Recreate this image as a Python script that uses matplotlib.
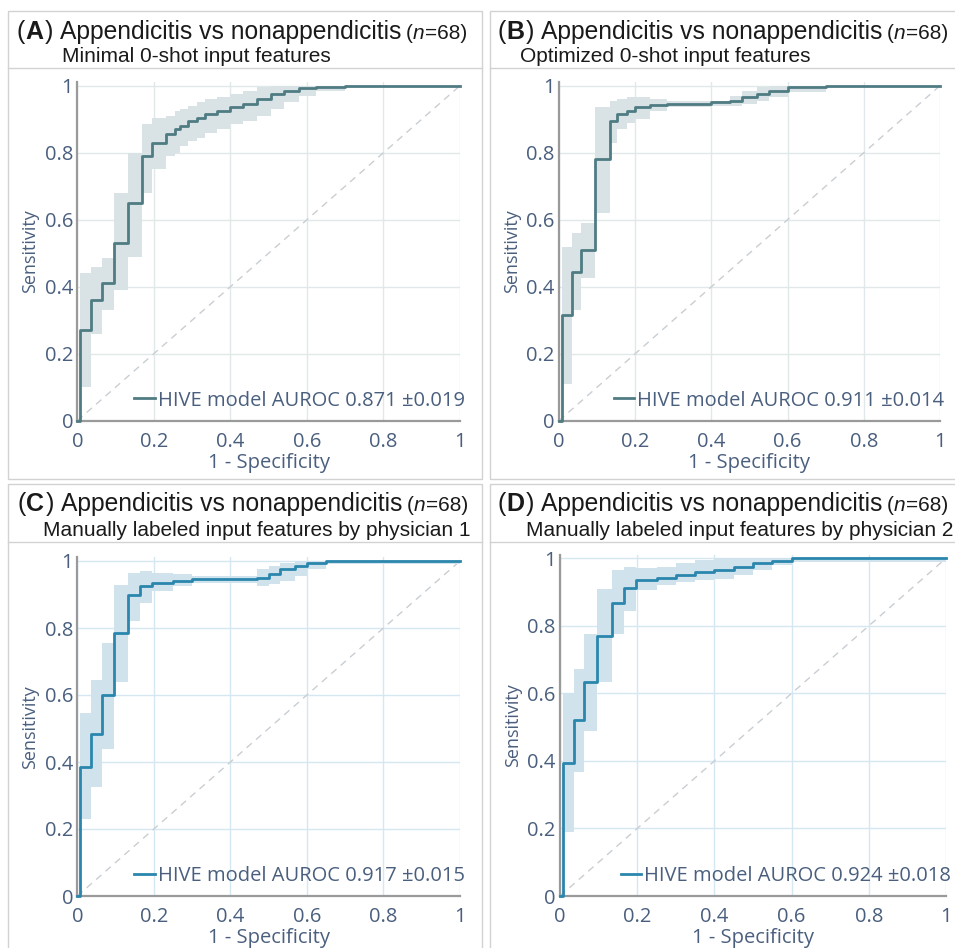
import matplotlib

matplotlib.use("Agg")

import matplotlib.pyplot as plt
from matplotlib.lines import Line2D
from matplotlib.patches import Rectangle

W, H = 955, 948

# ---- data (step ROC curves with +/- band) ----
A_FPR = [0, 0.008, 0.035, 0.064, 0.097, 0.133, 0.168, 0.194, 0.233, 0.255, 0.268, 0.29,
         0.312, 0.334, 0.364, 0.40, 0.434, 0.47, 0.505, 0.54, 0.58, 0.625, 0.70, 1.0]
A_TPR = [0, 0.27, 0.36, 0.41, 0.53, 0.65, 0.79, 0.83, 0.855, 0.87, 0.88, 0.895,
         0.905, 0.915, 0.925, 0.935, 0.945, 0.96, 0.975, 0.985, 0.993, 0.997, 1.0, 1.0]
A_LO = [0, 0.10, 0.26, 0.33, 0.39, 0.49, 0.68, 0.75, 0.79, 0.80, 0.82, 0.835,
        0.845, 0.86, 0.87, 0.885, 0.895, 0.91, 0.93, 0.95, 0.97, 0.985, 1.0, 1.0]
A_HI = [0, 0.44, 0.46, 0.485, 0.68, 0.80, 0.885, 0.905, 0.91, 0.925, 0.93, 0.94,
        0.95, 0.96, 0.965, 0.975, 0.985, 0.995, 1.0, 1.0, 1.0, 1.0, 1.0, 1.0]

B_FPR = [0, 0.007, 0.033, 0.057, 0.094, 0.134, 0.153, 0.178, 0.20, 0.24, 0.283, 0.40,
         0.45, 0.48, 0.52, 0.55, 0.60, 0.70, 1.0]
B_TPR = [0, 0.315, 0.445, 0.51, 0.78, 0.895, 0.915, 0.925, 0.935, 0.942, 0.945, 0.95,
         0.955, 0.965, 0.975, 0.985, 0.995, 1.0, 1.0]
B_LO = [0, 0.11, 0.33, 0.425, 0.62, 0.83, 0.87, 0.89, 0.90, 0.925, 0.935, 0.94,
        0.94, 0.945, 0.955, 0.965, 0.98, 0.995, 1.0]
B_HI = [0, 0.52, 0.56, 0.59, 0.935, 0.955, 0.96, 0.965, 0.965, 0.96, 0.955, 0.955,
        0.97, 0.985, 0.995, 1.0, 1.0, 1.0, 1.0]

C_FPR = [0, 0.007, 0.035, 0.064, 0.096, 0.133, 0.164, 0.194, 0.25, 0.30, 0.47, 0.50,
         0.53, 0.57, 0.60, 0.65, 1.0]
C_TPR = [0, 0.385, 0.485, 0.60, 0.785, 0.898, 0.925, 0.935, 0.94, 0.945, 0.95, 0.96,
         0.975, 0.985, 0.995, 1.0, 1.0]
C_LO = [0, 0.23, 0.325, 0.44, 0.64, 0.82, 0.875, 0.91, 0.925, 0.935, 0.925, 0.93,
        0.94, 0.955, 0.975, 0.99, 1.0]
C_HI = [0, 0.545, 0.645, 0.755, 0.928, 0.965, 0.97, 0.965, 0.96, 0.955, 0.975, 0.985,
        0.995, 1.0, 1.0, 1.0, 1.0]

D_FPR = [0, 0.009, 0.036, 0.062, 0.097, 0.136, 0.166, 0.196, 0.25, 0.30, 0.35, 0.40,
         0.45, 0.50, 0.55, 0.60, 1.0]
D_TPR = [0, 0.395, 0.52, 0.633, 0.771, 0.868, 0.911, 0.936, 0.942, 0.95, 0.958, 0.966,
         0.975, 0.985, 0.993, 1.0, 1.0]
D_LO = [0, 0.189, 0.368, 0.49, 0.635, 0.775, 0.845, 0.905, 0.92, 0.93, 0.935, 0.94,
        0.95, 0.965, 0.98, 0.99, 1.0]
D_HI = [0, 0.602, 0.671, 0.775, 0.908, 0.965, 0.975, 0.972, 0.975, 0.985, 0.995, 1.0,
        1.0, 1.0, 1.0, 1.0, 1.0]

LETTERS = ["A", "B", "C", "D"]
SUBTITLES = [
    "Minimal 0-shot input features",
    "Optimized 0-shot input features",
    "Manually labeled input features by physician 1",
    "Manually labeled input features by physician 2",
]
AUROC = ["0.871 \u00b10.019", "0.911 \u00b10.014", "0.917 \u00b10.015", "0.924 \u00b10.018"]
TICKS = [0, 0.2, 0.4, 0.6, 0.8, 1]
TICK_LABELS = ["0", "0.2", "0.4", "0.6", "0.8", "1"]

CURVES = [(A_FPR, A_TPR, A_LO, A_HI), (B_FPR, B_TPR, B_LO, B_HI),
          (C_FPR, C_TPR, C_LO, C_HI), (D_FPR, D_TPR, D_LO, D_HI)]

# layout in pixels (top-left origin): axes left/right, y=1 row, y=0 row
AX_PX = [(77.3, 460, 85.7, 420.7), (559, 940, 85.7, 420.7),
         (77.3, 460, 561, 896), (560, 946, 558.3, 896)]
FRAME_PX = [(8, 11, 482, 479), (490, 11, 970, 479), (8, 484, 482, 960), (490, 484, 970, 960)]
HEAD_SEP = [68, 68, 542, 542]
TITLE_XY = [(16, 39), (497, 39), (17, 511), (497, 511)]
SUB_XY = [(62, 62), (520, 62), (43, 536), (526, 536)]

STYLE_GREY = dict(line="#4f7c83", fill="#d9e3e6", grid="#e1e8ea")
STYLE_BLUE = dict(line="#2a86ad", fill="#d0e3ed", grid="#d5e7f0")
STYLES = [STYLE_GREY, STYLE_GREY, STYLE_BLUE, STYLE_BLUE]

TXT = "#4a5f7e"
YTOP = 1.011

fig = plt.figure(figsize=(W / 100, H / 100), dpi=100)
renderer = fig.canvas.get_renderer()


def fx(x):
    return x / W


def fy(y):
    return 1 - y / H


def text_row(x, y, parts):
    for s, kw, gap in parts:
        t = fig.text(fx(x), fy(y), s, va="baseline", ha="left", color="#1a1a1a",
                     family="Liberation Sans", **kw)
        x += t.get_window_extent(renderer).width + gap


for i in range(4):
    fl, ft, fr, fb = FRAME_PX[i]
    fig.add_artist(Rectangle((fx(fl), fy(fb)), fx(fr - fl), (fb - ft) / H,
                             transform=fig.transFigure, fill=False,
                             edgecolor="#d2d2d2", linewidth=1.0))
    fig.add_artist(Line2D([fx(fl), fx(fr)], [fy(HEAD_SEP[i])] * 2,
                          transform=fig.transFigure, color="#d2d2d2", linewidth=1.0))

    tx, ty = TITLE_XY[i]
    text_row(tx, ty, [
        ("(", dict(size=18), 1),
        (LETTERS[i], dict(size=18, weight="bold"), 1.5),
        (")", dict(size=18), 7),
        ("Appendicitis vs nonappendicitis", dict(size=17.7), 4.5),
        ("(", dict(size=15), 0),
        ("n", dict(size=15, style="italic"), 0),
        ("=68)", dict(size=15), 0),
    ])
    sx, sy = SUB_XY[i]
    fig.text(fx(sx), fy(sy), SUBTITLES[i], va="baseline", ha="left", size=15,
             color="#1a1a1a", family="Liberation Sans")

    l, r, y1, y0 = AX_PX[i]
    unit = y0 - y1
    top = y1 - (YTOP - 1) * unit
    ax = fig.add_axes([fx(l), fy(y0), (r - l) / W, (y0 - top) / H])
    st = STYLES[i]
    fpr, tpr, lo, hi = CURVES[i]

    ax.plot([0, 1], [0, 1], color="#c9ced3", linewidth=1.0, dashes=(5, 4), zorder=1)
    ax.fill_between(fpr, lo, hi, step="post", color=st["fill"], linewidth=0, zorder=2)
    (line,) = ax.step(fpr, tpr, where="post", color=st["line"], linewidth=2.0,
                      zorder=3, clip_on=False,
                      label="HIVE model AUROC " + AUROC[i])

    ax.set_xlim(0, 1)
    ax.set_ylim(0, YTOP)
    ax.set_xticks(TICKS, TICK_LABELS)
    ax.set_yticks(TICKS, TICK_LABELS)
    ax.grid(True, color=st["grid"], linewidth=1.0, zorder=0)
    ax.set_axisbelow(True)
    ax.tick_params(length=0, labelsize=14.5, labelcolor=TXT)
    ax.tick_params(axis="x", pad=8)
    ax.tick_params(axis="y", pad=3)
    for lab in ax.get_xticklabels() + ax.get_yticklabels():
        lab.set_family("Open Sans")
    for side in ("top", "right"):
        ax.spines[side].set_visible(False)
    for side in ("left", "bottom"):
        ax.spines[side].set_color("#9a9a9a")
        ax.spines[side].set_linewidth(1.6)
    ax.set_xlabel("1 - Specificity", fontsize=14.5, color=TXT, family="Open Sans",
                  labelpad=1)
    ax.set_ylabel("Sensitivity", fontsize=13, color=TXT, family="Open Sans",
                  labelpad=4)

    leg = ax.legend(handles=[line], loc="lower right", bbox_to_anchor=(1.012, 0.03),
                    frameon=False, fontsize=14.5, handlelength=1.0,
                    handletextpad=0.15, borderpad=0, borderaxespad=0)
    for t in leg.get_texts():
        t.set_color(TXT)
        t.set_family("Open Sans")

fig.savefig("out.png", dpi=100)
